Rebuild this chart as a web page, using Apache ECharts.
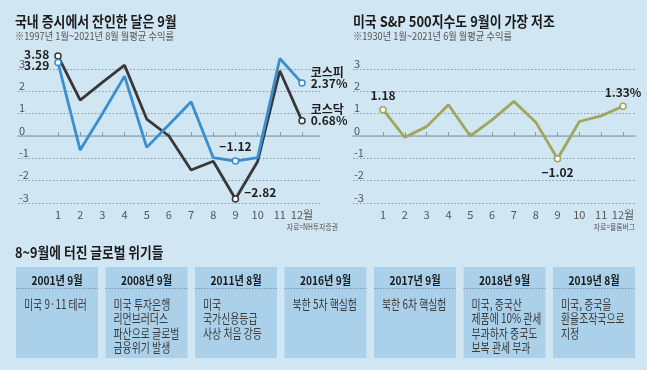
<!DOCTYPE html>
<html><head><meta charset="utf-8">
<script src="https://cdn.jsdelivr.net/npm/echarts@6/dist/echarts.min.js"></script>
<style>html,body{margin:0;padding:0;background:#d0e6f2;}#c{width:647px;height:370px;}</style>
</head><body><div id="c"></div>
<script>
// ---- data ----
const months = ['1','2','3','4','5','6','7','8','9','10','11','12월'];
const kospi  = [3.29,-0.63,1.00,2.68,-0.51,0.50,1.53,-0.97,-1.12,-0.97,3.47,2.37];
const kosdaq = [3.58,1.61,2.40,3.17,0.76,0.00,-1.52,-1.13,-2.82,-1.14,2.92,0.68];
const sp500  = [1.18,-0.06,0.42,1.40,0.00,0.72,1.55,0.62,-1.02,0.65,0.90,1.33];
const yMin = -3, yMax = 3;
const leftTitle = '국내 증시에서 잔인한 달은 9월';
const leftSub = '※1997년 1월~2021년 8월 월평균 수익률';
const rightTitle = '미국 S&P 500지수도 9월이 가장 저조';
const rightSub = '※1930년 1월~2021년 6월 월평균 수익률';
const leftSource = '자료=NH투자증권';
const rightSource = '자료=블룸버그';
const sectionTitle = '8~9월에 터진 글로벌 위기들';
const crisisDates = ['2001년 9월','2008년 9월','2011년 8월','2016년 9월','2017년 9월','2018년 9월','2019년 8월'];
const crisisTexts = [
  ['미국 9·11 테러'],
  ['미국 투자은행','리먼브러더스','파산으로 글로벌','금융위기 발생'],
  ['미국','국가신용등급','사상 처음 강등'],
  ['북한 5차 핵실험'],
  ['북한 6차 핵실험'],
  ['미국, 중국산','제품에 10% 관세','부과하자 중국도','보복 관세 부과'],
  ['미국, 중국을','환율조작국으로','지정']
];

// ---- styles ----
const KR = '"Noto Sans CJK KR", sans-serif';
const NUM = '"Liberation Sans Narrow", "Noto Sans CJK KR", sans-serif';
const cBlue = '#3b8ed0', cDark = '#383838', cOlive = '#a0a65c';
const fmt = v => (v < 0 ? '−' : '') + Math.abs(v).toFixed(2);

function mkData(arr, color, labels) {
  return arr.map((v, i) => {
    if (!labels[i]) return v;
    return {
      value: v,
      symbol: 'circle', symbolSize: 6,
      itemStyle: {color: '#fff', borderColor: color, borderWidth: 1.5},
      label: Object.assign({show: true, color: '#1f1f1f', fontSize: 12, fontWeight: 'bold', fontFamily: NUM}, labels[i])
    };
  });
}

const gTop = 69, gBottom = 370 - 203;
const grids = [
  {left: 18, right: 327, top: gTop, bottom: gBottom},   // wide left (gridlines)
  {left: 58, right: 345, top: gTop, bottom: gBottom},   // data left
  {left: 353, right: 12, top: gTop, bottom: gBottom},   // wide right
  {left: 383, right: 24, top: gTop, bottom: gBottom}    // data right
];
function wideX(g) {
  return {gridIndex: g, type: 'value', min: 0, max: 1, show: true,
    axisLine: {show: true, onZero: true, lineStyle: {color: '#98adb9', width: 1.5}},
    axisTick: {show: false}, axisLabel: {show: false}, splitLine: {show: false}};
}
function wideY(g) {
  return {gridIndex: g, type: 'value', min: yMin, max: yMax, interval: 1,
    axisLine: {show: false}, axisTick: {show: false},
    axisLabel: {inside: true, margin: 1, verticalAlign: 'bottom', align: 'left', color: '#555', fontSize: 11, fontFamily: NUM},
    splitLine: {show: true, lineStyle: {color: '#8a9ca8', type: [1.5, 2], width: 1}}};
}
function dataX(g) {
  return {gridIndex: g, type: 'category', data: months, boundaryGap: false,
    axisLine: {show: false},
    axisTick: {show: true, inside: true, length: 4, interval: 0, lineStyle: {color: '#8a9ca8'}},
    axisLabel: {interval: 0, hideOverlap: false, color: '#555', fontSize: 11, margin: 6, fontFamily: NUM},
    splitLine: {show: false}};
}
function dataY(g) {
  return {gridIndex: g, type: 'value', min: yMin, max: yMax, show: false, splitLine: {show: false}};
}

const kospiLabels = {
  0: {position: 'left', distance: 5, offset: [0, 3], formatter: p => fmt(p.value)},
  8: {position: 'top', distance: 5, formatter: p => fmt(p.value)},
  11: {position: 'right', distance: 5, lineHeight: 11, offset: [0, -5.5], formatter: p => p.seriesName + '\n' + fmt(p.value) + '%'}
};
const kosdaqLabels = {
  0: {position: 'left', distance: 5, offset: [0, -2], formatter: p => fmt(p.value)},
  8: {position: 'right', distance: 5, offset: [0, -7], formatter: p => fmt(p.value)},
  11: {position: 'right', distance: 5, lineHeight: 11, offset: [0, -5.5], formatter: p => p.seriesName + '\n' + fmt(p.value) + '%'}
};
const spLabels = {
  0: {position: 'top', distance: 4, formatter: p => fmt(p.value)},
  8: {position: 'bottom', distance: 4, formatter: p => fmt(p.value)},
  11: {position: 'top', distance: 4, formatter: p => fmt(p.value) + '%'}
};

// ---- graphics ----
const graphics = [];
function txt(x, y, text, font, fill, align, sx) {
  graphics.push({type: 'text', x, y, scaleX: sx, z: 10,
    style: {text, font, fill, align: align || 'left', verticalAlign: 'middle'}});
}
txt(15, 21.5, leftTitle, 'bold 15px ' + KR, '#1b1b1b', 'left', 0.86);
txt(15, 36, leftSub, '10.5px ' + KR, '#555', 'left', 0.88);
txt(353, 21.5, rightTitle, 'bold 15px ' + KR, '#1b1b1b', 'left', 0.86);
txt(353, 36, rightSub, '10.5px ' + KR, '#555', 'left', 0.88);
txt(338, 227, leftSource, '8.5px ' + KR, '#555', 'right', 0.8);
txt(635, 227, rightSource, '8.5px ' + KR, '#555', 'right', 0.8);
txt(15, 252.5, sectionTitle, 'bold 15px ' + KR, '#1b1b1b', 'left', 0.85);

const bx0 = 16, pitch = 89.5, bw = 82, by = 267, bh = 91;
crisisDates.forEach((d, i) => {
  const x = bx0 + i * pitch;
  graphics.push({type: 'rect', shape: {x, y: by, width: bw, height: bh}, style: {fill: '#abd1ea'}, z: 1});
  graphics.push({type: 'line', shape: {x1: x, y1: 288.5, x2: x + bw, y2: 288.5},
    style: {stroke: '#7d97aa', lineWidth: 1, lineDash: [1.5, 1.5]}, z: 2});
  txt(x + bw / 2, 280.5, d, 'bold 12px ' + KR, '#1b1b1b', 'center', 0.85);
  crisisTexts[i].forEach((line, j) => {
    txt(x + 8, 304 + j * 14.3, line, '13px ' + KR, '#3a3a3a', 'left', 0.76);
  });
});

const chart = echarts.init(document.getElementById('c'));
chart.setOption({
  backgroundColor: '#d0e6f2',
  animation: false,
  grid: grids,
  xAxis: [wideX(0), dataX(1), wideX(2), dataX(3)],
  yAxis: [wideY(0), dataY(1), wideY(2), dataY(3)],
  graphic: graphics,
  series: [
    {name: '코스닥', type: 'line', xAxisIndex: 1, yAxisIndex: 1, clip: false, symbol: 'none',
     lineStyle: {color: cDark, width: 2.8}, itemStyle: {color: cDark}, z: 3,
     data: mkData(kosdaq, cDark, kosdaqLabels)},
    {name: '코스피', type: 'line', xAxisIndex: 1, yAxisIndex: 1, clip: false, symbol: 'none',
     lineStyle: {color: cBlue, width: 2.8}, itemStyle: {color: cBlue}, z: 4,
     data: mkData(kospi, cBlue, kospiLabels)},
    {name: 'S&P 500', type: 'line', xAxisIndex: 3, yAxisIndex: 3, clip: false, symbol: 'none',
     lineStyle: {color: cOlive, width: 2.8}, itemStyle: {color: cOlive}, z: 3,
     data: mkData(sp500, cOlive, spLabels)}
  ]
});
</script></body></html>
